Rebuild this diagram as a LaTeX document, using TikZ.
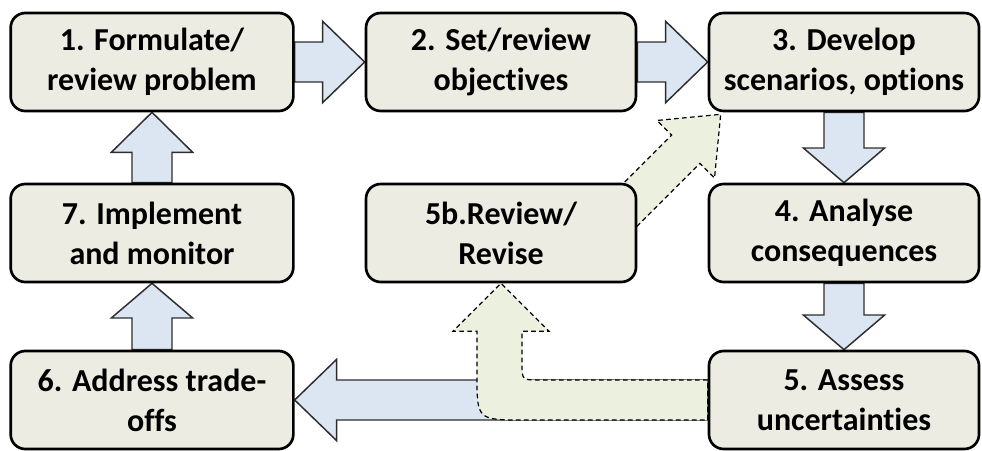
\documentclass[tikz,border=0pt]{standalone}
\usepackage{fontspec}
\setmainfont[Ligatures=NoCommon]{Carlito}
\usepackage{tikz}
\usetikzlibrary{calc,backgrounds}

\definecolor{boxfill}{RGB}{237,236,226}
\definecolor{flowblue}{RGB}{220,230,242}
\definecolor{flowgreen}{RGB}{235,241,222}
\definecolor{flowline}{RGB}{45,45,45}

\newcommand{\shaftw}{15pt}
\newcommand{\headw}{30.5pt}
\newcommand{\blockarrow}[4][flow]{%
  \coordinate (hb) at ($(#3)!#4!(#2)$);
  \draw[#1] ($(#2)!\shaftw!90:(#3)$) -- ($(hb)!\shaftw!90:(#3)$) -- ($(hb)!\headw!90:(#3)$) -- (#3)
    -- ($(hb)!\headw!-90:(#3)$) -- ($(hb)!\shaftw!-90:(#3)$) -- ($(#2)!\shaftw!-90:(#3)$) -- cycle;
}

\begin{document}
\begin{tikzpicture}[x=0.75pt, y=-0.75pt,
    stage/.style={draw=black, line width=2pt, rounded corners=11pt, fill=boxfill,
      minimum width=202.5pt, minimum height=73.5pt, align=center,
      font=\fontsize{24}{30}\selectfont\bfseries},
    wide/.style={minimum width=212pt},
    flow/.style={draw=flowline, fill=flowblue, line width=1.1pt},
    revflow/.style={draw=black, fill=flowgreen, line width=0.9pt, dash pattern=on 3.5pt off 2.5pt}]
    \useasboundingbox (0,0) rectangle (982,450);

    \node[stage, wide] (s1) at (152,62) {1. Formulate/\\review problem};
    \node[stage] (s2) at (501,62) {2. Set/review\\objectives};
    \node[stage] (s3) at (844,62) {3. Develop\\scenarios, options};
    \node[stage] (s4) at (844,233) {4. Analyse\\consequences};
    \node[stage] (s5) at (844,400) {5. Assess\\uncertainties};
    \node[stage] (s5b) at (501,233) {5b.Review/\\Revise};
    \node[stage, wide] (s6) at (152,400) {6. Address trade-\\offs};
    \node[stage, wide] (s7) at (152,233) {7. Implement\\and monitor};

    \begin{scope}[on background layer]
        \blockarrow{s1.east}{s2.west}{31.5pt}
        \blockarrow{s2.east}{s3.west}{31.5pt}
        \blockarrow{s3.south}{s4.north}{26pt}
        \blockarrow{s4.south}{s5.north}{26pt}
        \blockarrow{s5.west}{s6.east}{31.5pt}
        \blockarrow{s6.north}{s7.south}{26pt}
        \blockarrow{s7.north}{s1.south}{30pt}

        \coordinate (gs) at (s5.west);
        \coordinate (gt) at (s5b.south);
        \draw[revflow] ($(gs)+(0,-20)$) -- ($(gt|-gs)+(38,-20)$)
            .. controls ($(gt|-gs)+(21,-20)$) .. ($(gt|-gs)+(21,-37)$)
            -- ($(gt)+(21,48)$) -- ($(gt)+(48,48)$) -- (gt) -- ($(gt)+(-48,48)$) -- ($(gt)+(-24,48)$)
            -- ($(gt|-gs)+(-24,-25)$) .. controls ($(gt|-gs)+(-24,20)$) .. ($(gt|-gs)+(24,20)$)
            -- ($(gs)+(0,20)$) -- cycle;

        \coordinate (dt) at ($(s3.south west)+(13,2)$);
        \coordinate (d0) at ($(dt)+(-110,110)$);
        \blockarrow[revflow]{d0}{dt}{37pt}
    \end{scope}
\end{tikzpicture}
\end{document}
